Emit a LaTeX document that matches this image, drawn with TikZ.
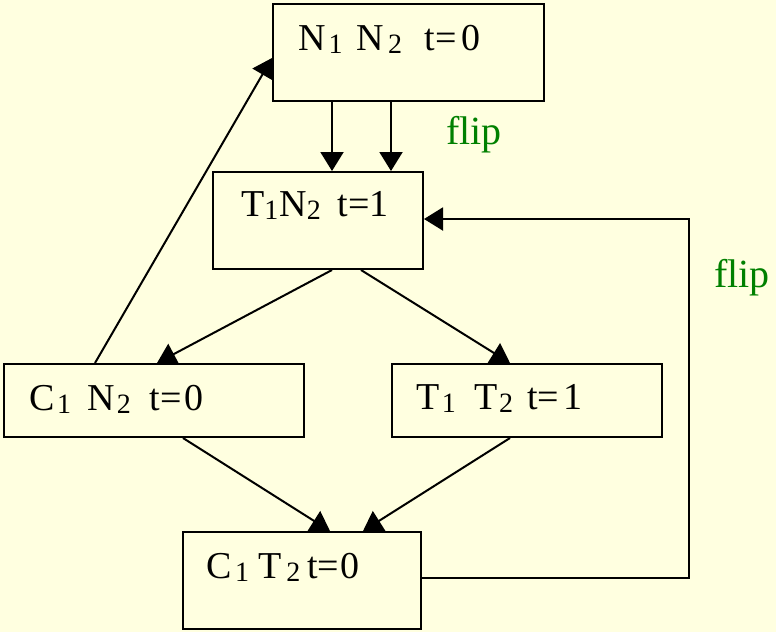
\documentclass[tikz,border=0pt]{standalone}
\usepackage{fontspec}
\setmainfont{Liberation Serif}
\usetikzlibrary{arrows.meta,calc}
\definecolor{bgc}{RGB}{255,255,224}
\definecolor{flipc}{RGB}{0,128,0}
\newcommand{\mysub}[1]{\raisebox{-3pt}{\fontsize{28}{28}\selectfont #1}}
\begin{document}
\begin{tikzpicture}[x=1pt,y=-1pt,
  box/.style={draw,line width=2pt,rectangle,anchor=north west,inner sep=0pt},
  txt/.style={anchor=base west,inner sep=0pt,font=\fontsize{38}{38}\selectfont},
  fliptxt/.style={anchor=base west,inner sep=0pt,text=flipc,font=\fontsize{40}{40}\selectfont},
  arr/.style={line width=2pt,-{Triangle[length=19pt,width=23pt]}}]
\fill[bgc] (0,0) rectangle (776,632);
\useasboundingbox (0,0) rectangle (776,632);
% boxes
\node[box,minimum width=271pt,minimum height=97pt] (a) at (272,3) {};
\node[box,minimum width=210pt,minimum height=97pt] (b) at (212,171) {};
\node[box,minimum width=300pt,minimum height=73pt] (c) at (3,363) {};
\node[box,minimum width=270pt,minimum height=73pt] (d) at (391,363) {};
\node[box,minimum width=238pt,minimum height=97pt] (e) at (182,531) {};
% texts
\node[txt] (ta) at (298,50) {N\hspace{3pt}\mysub{1}\hspace{14pt}N\hspace{4pt}\mysub{2}\hspace{22pt}t\hspace{1pt}=\hspace{4pt}0};
\node[txt] (tb) at (241,216) {T\hspace{0pt}\mysub{1}\hspace{1pt}N\hspace{0pt}\mysub{2}\hspace{17pt}t=1};
\node[txt] (tc) at (29,410) {C\hspace{2.5pt}\mysub{1}\hspace{16pt}N\hspace{2.5pt}\mysub{2}\hspace{19pt}t=\hspace{3pt}0};
\node[txt] (td) at (416,409) {T\hspace{2.5pt}\mysub{1}\hspace{19pt}T\hspace{1pt}\mysub{2}\hspace{14pt}t=\hspace{4pt}1};
\node[txt] (te) at (206,578) {C\hspace{3.5pt}\mysub{1}\hspace{9pt}T\hspace{5pt}\mysub{2}\hspace{7pt}t=\hspace{1pt}0};
\node[fliptxt] (f1) at (446,144) {flip};
\node[fliptxt] (f2) at (714,287) {flip};
% connectors
\draw[arr] ($(a.south west)+(60,0)$) -- ($(b.north west)+(120,0)$);
\draw[arr] ($(a.south west)+(119,0)$) -- ($(b.north west)+(179,0)$);
\draw[arr] ($(b.south west)+(120,0)$) -- ($(c.north west)+(154,0)$);
\draw[arr] ($(b.south west)+(149,0)$) -- ($(d.north west)+(119,0)$);
\draw[arr] ($(c.north west)+(92,0)$) -- ($(a.north west)+(0,55)$);
\draw[arr] ($(c.south west)+(180,0)$) -- ($(e.north west)+(148,0)$);
\draw[arr] ($(d.south west)+(119,0)$) -- ($(e.north west)+(181,0)$);
\coordinate (r1) at (689,578);
\coordinate (r2) at (689,219);
\draw[arr] ($(e.north east)+(0,47)$) -- (r1) -- (r2) -- ($(b.north east)+(0,48)$);
\end{tikzpicture}
\end{document}
